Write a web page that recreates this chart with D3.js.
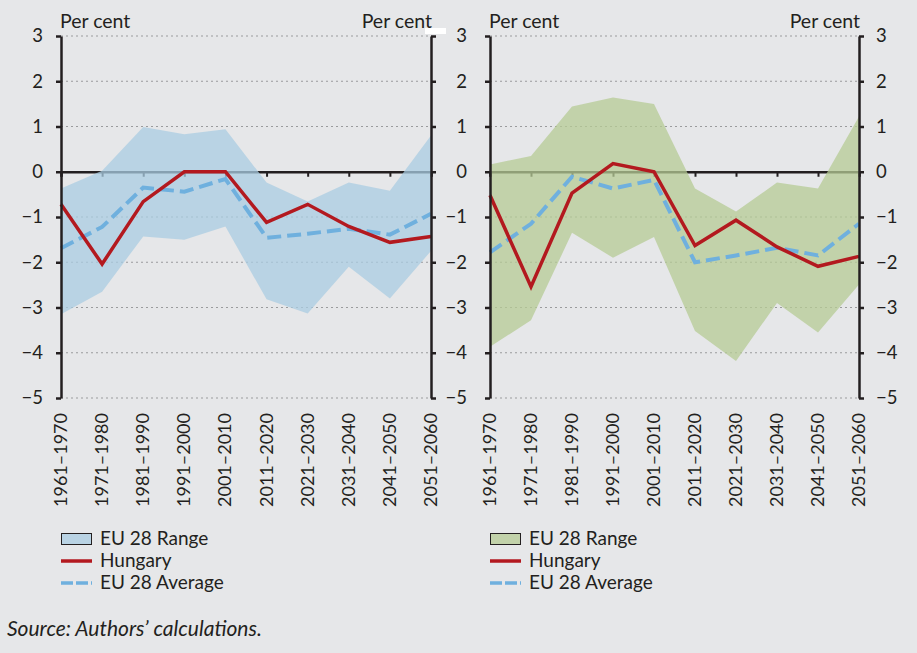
<!DOCTYPE html>
<html>
<head>
<meta charset="utf-8">
<script src="https://cdn.jsdelivr.net/npm/d3@7"></script>
<style>
  body { margin: 0; background: #e6e7e9; }
  svg { display: block; font-family: Lato, "Open Sans", sans-serif; }
  text { fill: #231f20; }
</style>
</head>
<body>
<svg id="chart" width="917" height="653"></svg>
<script>
// =============================
// Data
// =============================

const decades = ["1961–1970", "1971–1980", "1981–1990", "1991–2000", "2001–2010",
                 "2011–2020", "2021–2030", "2031–2040", "2041–2050", "2051–2060"];
const yTicks = [3, 2, 1, 0, -1, -2, -3, -4, -5];

// left panel
const leftHungary = [-0.72, -2.04, -0.66, 0.0, 0.0, -1.12, -0.72, -1.21, -1.56, -1.43];
const leftAverage = [-1.69, -1.22, -0.35, -0.44, -0.16, -1.46, -1.37, -1.26, -1.39, -0.93];
const leftUpper   = [-0.37, 0.02, 0.99, 0.83, 0.94, -0.24, -0.66, -0.24, -0.42, 0.80];
const leftLower   = [-3.15, -2.65, -1.43, -1.50, -1.21, -2.82, -3.13, -2.10, -2.80, -1.75];

// right panel
const rightHungary = [-0.52, -2.54, -0.47, 0.18, 0.0, -1.63, -1.07, -1.66, -2.09, -1.87];
const rightAverage = [-1.78, -1.15, -0.11, -0.37, -0.18, -2.00, -1.85, -1.68, -1.85, -1.15];
const rightUpper   = [0.16, 0.35, 1.44, 1.64, 1.50, -0.37, -0.88, -0.24, -0.37, 1.22];
const rightLower   = [-3.87, -3.28, -1.35, -1.90, -1.44, -3.52, -4.18, -2.90, -3.55, -2.49];

const legendLabels = ["EU 28 Range", "Hungary", "EU 28 Average"];

// =============================
// Drawing
// =============================

const svg = d3.select("#chart");
const ink = "#231f20";
const red = "#b3191f";
const blue = "#6fb0de";

const y = d3.scaleLinear().domain([-5, 3]).range([398, 36]);
const fmt = d => d < 0 ? "−" + Math.abs(d) : String(d);

function drawPanel(p) {
    const x = d3.scalePoint().domain(decades).range([p.x0, p.x1]);
    const g = svg.append("g");

    // dotted grid
    g.append("g")
        .selectAll("line")
        .data(yTicks.filter(d => d !== 0))
        .enter()
        .append("line")
        .attr("x1", p.x0).attr("x2", p.x1)
        .attr("y1", d => y(d)).attr("y2", d => y(d))
        .attr("stroke", "#9a9b9d")
        .attr("stroke-width", 1)
        .attr("stroke-dasharray", "2,3");

    // zero line with downward ticks
    const xAxis = g.append("g")
        .attr("transform", `translate(0,${y(0)})`)
        .call(d3.axisBottom(x).tickSize(5).tickFormat(""));
    xAxis.select(".domain").attr("stroke", ink).attr("stroke-width", 2.5);
    xAxis.selectAll(".tick line").attr("stroke", ink).attr("stroke-width", 2);

    // range band (translucent)
    const area = d3.area()
        .x((d, i) => x(decades[i]))
        .y0((d, i) => y(p.lower[i]))
        .y1(d => y(d));
    g.append("path")
        .datum(p.upper)
        .attr("d", area)
        .attr("fill", p.fill)
        .attr("fill-opacity", 0.75);

    const line = d3.line()
        .x((d, i) => x(decades[i]))
        .y(d => y(d));

    g.append("path")
        .datum(p.average)
        .attr("d", line)
        .attr("fill", "none")
        .attr("stroke", blue)
        .attr("stroke-width", 4)
        .attr("stroke-dasharray", "14,6");

    g.append("path")
        .datum(p.hungary)
        .attr("d", line)
        .attr("fill", "none")
        .attr("stroke", red)
        .attr("stroke-width", 3.5)
        .attr("stroke-linejoin", "miter");

    // vertical axes
    const leftAxis = g.append("g")
        .attr("transform", `translate(${p.x0},0)`)
        .call(d3.axisLeft(y).tickValues(yTicks).tickSize(5).tickSizeOuter(0)
            .tickPadding(p.leftPad).tickFormat(fmt));
    const rightAxis = g.append("g")
        .attr("transform", `translate(${p.x1},0)`)
        .call(d3.axisRight(y).tickValues(yTicks).tickSize(5).tickSizeOuter(0)
            .tickPadding(p.rightPad).tickFormat(p.rightLabels ? fmt : ""));

    [leftAxis, rightAxis].forEach(a => {
        a.select(".domain").attr("stroke", ink).attr("stroke-width", 2.5);
        a.selectAll(".tick line").attr("stroke", ink).attr("stroke-width", 2.5);
        a.selectAll(".tick text")
            .attr("font-size", "18.5px")
            .attr("font-family", "Lato, 'Open Sans', sans-serif")
            .attr("fill", ink);
    });

    // category labels
    g.append("g")
        .selectAll("text")
        .data(decades)
        .enter()
        .append("text")
        .attr("transform", d => `translate(${x(d) + 6},413) rotate(-90)`)
        .attr("text-anchor", "end")
        .attr("font-size", "18px")
        .text(d => d);

    // unit labels
    g.append("text").attr("x", p.x0 - 1).attr("y", 28)
        .attr("font-size", "19.5px").text("Per cent");
    g.append("text").attr("x", p.x1 + 1).attr("y", 28)
        .attr("text-anchor", "end")
        .attr("font-size", "19.5px").text("Per cent");

    // legend
    const lg = g.append("g").attr("transform", `translate(${p.x0},0)`);
    lg.append("rect")
        .attr("x", 0.5).attr("y", 533.5)
        .attr("width", 30).attr("height", 11)
        .attr("fill", p.fill).attr("fill-opacity", 0.75)
        .attr("stroke", ink).attr("stroke-width", 1);
    lg.append("line")
        .attr("x1", 0).attr("x2", 31).attr("y1", 561).attr("y2", 561)
        .attr("stroke", red).attr("stroke-width", 3.5);
    lg.append("line")
        .attr("x1", 0).attr("x2", 31).attr("y1", 583).attr("y2", 583)
        .attr("stroke", blue).attr("stroke-width", 3.5)
        .attr("stroke-dasharray", "12,3");
    lg.selectAll("text.leg")
        .data(legendLabels)
        .enter()
        .append("text")
        .attr("class", "leg")
        .attr("x", 39)
        .attr("y", (d, i) => 545 + i * 22)
        .attr("font-size", "19px")
        .text(d => d);
}

drawPanel({
    x0: 61, x1: 431, fill: "#aacce2",
    hungary: leftHungary, average: leftAverage, upper: leftUpper, lower: leftLower,
    leftPad: 13, rightPad: 10, rightLabels: false
});

drawPanel({
    x0: 490, x1: 859, fill: "#b5cb94",
    hungary: rightHungary, average: rightAverage, upper: rightUpper, lower: rightLower,
    leftPad: 18, rightPad: 12, rightLabels: true
});

// small white mark near the top of the left panel's right axis
svg.append("rect")
    .attr("x", 425).attr("y", 28)
    .attr("width", 21).attr("height", 6)
    .attr("fill", "#ffffff");

svg.append("text")
    .attr("x", 7).attr("y", 636)
    .attr("font-size", "21px")
    .attr("font-style", "italic")
    .text("Source: Authors’ calculations.");
</script>
</body>
</html>
